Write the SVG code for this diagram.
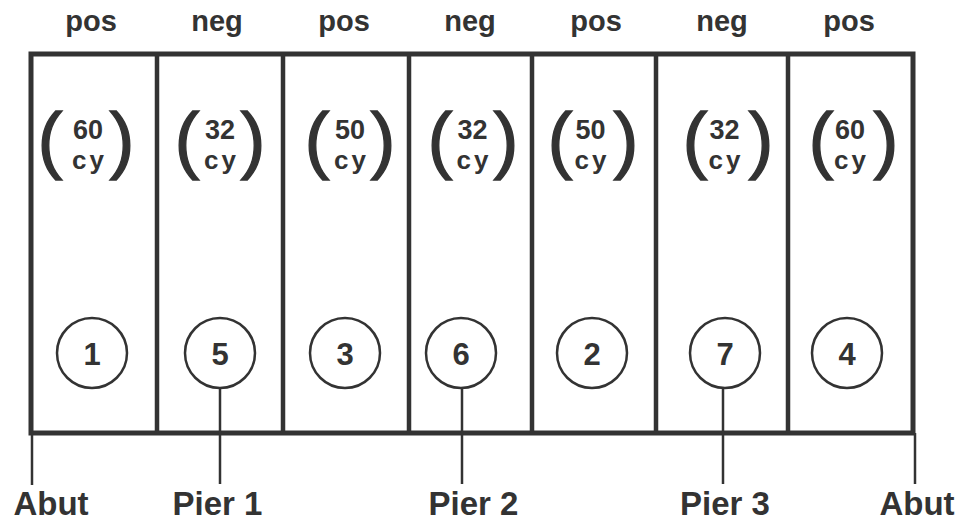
<svg xmlns="http://www.w3.org/2000/svg" width="963" height="523" viewBox="0 0 963 523">
<style>
.bg{fill:#ffffff}
.frame{fill:none;stroke:#333;stroke-width:5}
.div{stroke:#333;stroke-width:4.5;fill:none}
.lead{stroke:#333;stroke-width:2.5;fill:none}
.circ{fill:#fff;stroke:#333;stroke-width:2.5}
.t{font-family:"Liberation Sans",Arial,sans-serif;fill:#333;font-weight:bold;text-anchor:middle}
.top{font-size:29px}
.num{font-size:27px}
.cy{font-size:26px;letter-spacing:3px}
.cn{font-size:31px}
.bot{font-size:33px}
.par{font-family:"Liberation Sans",Arial,sans-serif;fill:#333;stroke:#333;stroke-width:1.3;font-size:75px;text-anchor:middle}
</style>
<rect class="bg" x="0" y="0" width="963" height="523"/>
<g id="frame">
<rect class="frame" x="31" y="54" width="882" height="379"/>
<line class="div" x1="157" y1="54" x2="157" y2="433"/>
<line class="div" x1="283" y1="54" x2="283" y2="433"/>
<line class="div" x1="409" y1="54" x2="409" y2="433"/>
<line class="div" x1="532" y1="54" x2="532" y2="433"/>
<line class="div" x1="656" y1="54" x2="656" y2="433"/>
<line class="div" x1="788" y1="54" x2="788" y2="433"/>
</g>
<g id="connectors">
<line class="lead" x1="32" y1="433" x2="32" y2="485"/>
<line class="lead" x1="220" y1="388" x2="220" y2="484"/>
<line class="lead" x1="462" y1="388" x2="462" y2="484"/>
<line class="lead" x1="723" y1="388" x2="723" y2="484"/>
<line class="lead" x1="915" y1="433" x2="915" y2="484"/>
</g>
<g id="span1">
<text class="t top" x="91" y="31">pos</text>
<text class="par" x="50" y="165">(</text><text class="par" x="122" y="165">)</text>
<text class="t num" x="88" y="139">60</text>
<text class="t cy" x="89.5" y="169">cy</text>
<circle class="circ" cx="92" cy="353" r="35"/>
<text class="t cn" x="92" y="365">1</text>
</g>
<g id="span5">
<text class="t top" x="217" y="31">neg</text>
<text class="par" x="187" y="165">(</text><text class="par" x="253" y="165">)</text>
<text class="t num" x="220" y="139">32</text>
<text class="t cy" x="221.5" y="169">cy</text>
<circle class="circ" cx="220" cy="353" r="35"/>
<text class="t cn" x="220" y="365">5</text>
</g>
<g id="span3">
<text class="t top" x="344" y="31">pos</text>
<text class="par" x="317" y="165">(</text><text class="par" x="383" y="165">)</text>
<text class="t num" x="350" y="139">50</text>
<text class="t cy" x="351.5" y="169">cy</text>
<circle class="circ" cx="345" cy="353" r="35"/>
<text class="t cn" x="345" y="365">3</text>
</g>
<g id="span6">
<text class="t top" x="470" y="31">neg</text>
<text class="par" x="440" y="165">(</text><text class="par" x="506" y="165">)</text>
<text class="t num" x="472.5" y="139">32</text>
<text class="t cy" x="474" y="169">cy</text>
<circle class="circ" cx="461" cy="353" r="35"/>
<text class="t cn" x="461" y="365">6</text>
</g>
<g id="span2">
<text class="t top" x="596" y="31">pos</text>
<text class="par" x="560" y="165">(</text><text class="par" x="626" y="165">)</text>
<text class="t num" x="590.5" y="139">50</text>
<text class="t cy" x="592" y="169">cy</text>
<circle class="circ" cx="592" cy="353" r="35"/>
<text class="t cn" x="592" y="365">2</text>
</g>
<g id="span7">
<text class="t top" x="722" y="31">neg</text>
<text class="par" x="695" y="165">(</text><text class="par" x="761" y="165">)</text>
<text class="t num" x="724.5" y="139">32</text>
<text class="t cy" x="726" y="169">cy</text>
<circle class="circ" cx="725" cy="353" r="35"/>
<text class="t cn" x="725" y="365">7</text>
</g>
<g id="span4">
<text class="t top" x="849" y="31">pos</text>
<text class="par" x="821" y="165">(</text><text class="par" x="886" y="165">)</text>
<text class="t num" x="850" y="139">60</text>
<text class="t cy" x="851.5" y="169">cy</text>
<circle class="circ" cx="847" cy="353" r="35"/>
<text class="t cn" x="847" y="365">4</text>
</g>
<g id="supports">
<text class="t bot" x="51" y="515">Abut</text>
<text class="t bot" x="217.5" y="515">Pier 1</text>
<text class="t bot" x="473.5" y="515">Pier 2</text>
<text class="t bot" x="725" y="515">Pier 3</text>
<text class="t bot" x="917" y="515">Abut</text>
</g>
</svg>
